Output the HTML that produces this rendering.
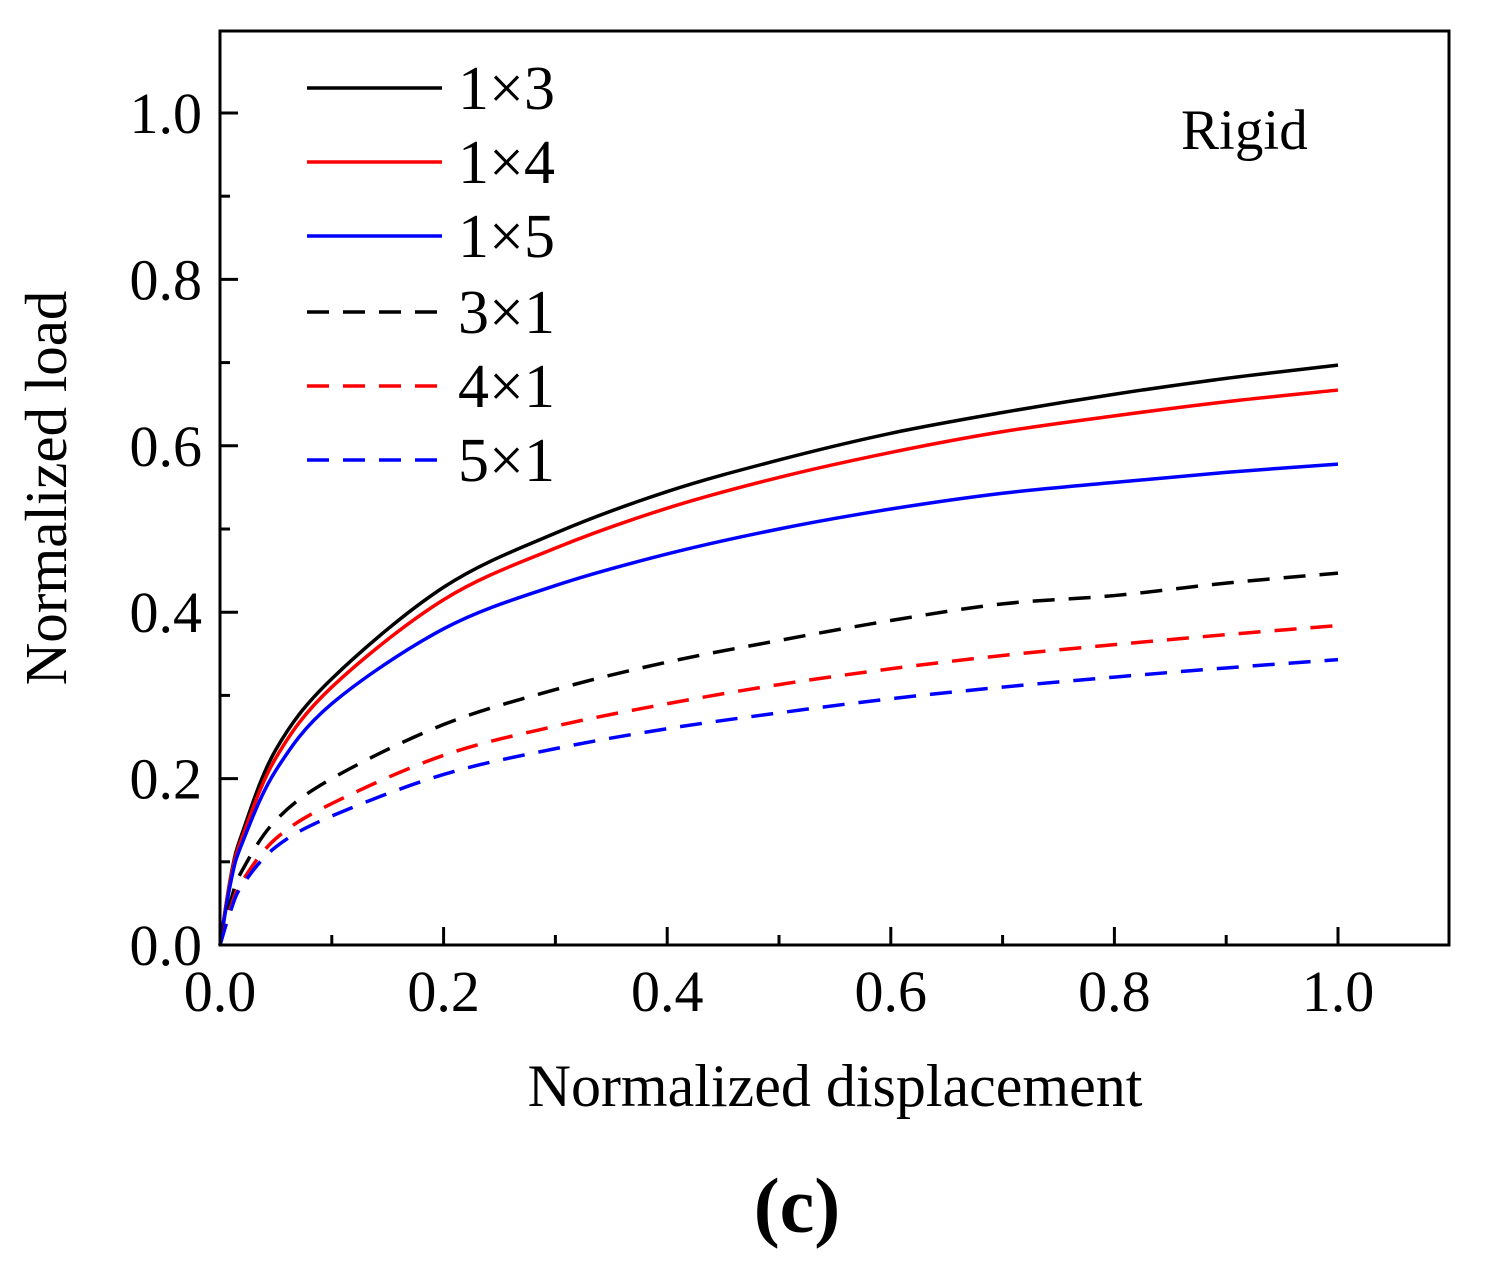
<!DOCTYPE html>
<html><head><meta charset="utf-8"><style>
html,body{margin:0;padding:0;background:#fff;}
svg text{font-family:"Liberation Serif",serif;fill:#000;}
</style></head><body>
<svg id="chart" width="1490" height="1283" viewBox="0 0 1490 1283">
<g id="curves"></g>
<rect x="220" y="31" width="1229" height="914" fill="none" stroke="#000" stroke-width="3"/>
<g id="axes"></g>
<g id="legend"></g>
<text x="1181" y="149" font-size="57">Rigid</text>
<text x="835" y="1106" font-size="60" text-anchor="middle">Normalized displacement</text>
<text transform="translate(66,488) rotate(-90)" font-size="59" text-anchor="middle">Normalized load</text>
<text x="797" y="1232" font-size="78" font-weight="bold" text-anchor="middle">(c)</text>
</svg>
<script>
const xs = [0, 0.01, 0.02, 0.05, 0.1, 0.2, 0.3, 0.4, 0.5, 0.6, 0.7, 0.8, 0.9, 1.0];
const s1x3 = [0, 0.085, 0.135, 0.235, 0.32, 0.43, 0.495, 0.545, 0.583, 0.615, 0.64, 0.662, 0.681, 0.697];
const s1x4 = [0, 0.083, 0.13, 0.225, 0.31, 0.415, 0.477, 0.525, 0.562, 0.592, 0.617, 0.636, 0.653, 0.667];
const s1x5 = [0, 0.078, 0.123, 0.21, 0.29, 0.38, 0.432, 0.47, 0.5, 0.524, 0.543, 0.556, 0.568, 0.578];
const s3x1 = [0, 0.055, 0.09, 0.15, 0.2, 0.265, 0.307, 0.34, 0.366, 0.39, 0.41, 0.42, 0.435, 0.447];
const s4x1 = [0, 0.047, 0.077, 0.128, 0.17, 0.228, 0.263, 0.29, 0.313, 0.332, 0.348, 0.361, 0.373, 0.384];
const s5x1 = [0, 0.043, 0.072, 0.118, 0.155, 0.205, 0.236, 0.26, 0.279, 0.296, 0.31, 0.322, 0.333, 0.343];
const seriesNames = ["1×3","1×4","1×5","3×1","4×1","5×1"];
const seriesData = [s1x3,s1x4,s1x5,s3x1,s4x1,s5x1];
const seriesColors = ["#000","#f00","#00f","#000","#f00","#00f"];
const seriesDashed = [false,false,false,true,true,true];
const xTicks = [0,0.2,0.4,0.6,0.8,1.0];
const yTicks = [0,0.2,0.4,0.6,0.8,1.0];

const X = v => 220 + v*1118;
const Y = v => 945 - v*832;
const NS = "http://www.w3.org/2000/svg";
function mk(tag, attrs, parent){const e=document.createElementNS(NS,tag);for(const k in attrs)e.setAttribute(k,attrs[k]);parent.appendChild(e);return e;}
function smooth(pts){
  let d=`M${pts[0][0]},${pts[0][1]}`;
  for(let i=0;i<pts.length-1;i++){
    const p0=pts[Math.max(0,i-1)],p1=pts[i],p2=pts[i+1],p3=pts[Math.min(pts.length-1,i+2)];
    const c1=[p1[0]+(p2[0]-p0[0])/6,p1[1]+(p2[1]-p0[1])/6];
    const c2=[p2[0]-(p3[0]-p1[0])/6,p2[1]-(p3[1]-p1[1])/6];
    d+=`C${c1[0]},${c1[1]} ${c2[0]},${c2[1]} ${p2[0]},${p2[1]}`;
  }
  return d;
}
const cg=document.getElementById('curves');
seriesData.forEach((ys,i)=>{
  const pts=xs.map((x,j)=>[X(x),Y(ys[j])]);
  const p=mk('path',{d:smooth(pts),fill:'none',stroke:seriesColors[i],'stroke-width':3.5},cg);
  if(seriesDashed[i]) p.setAttribute('stroke-dasharray','22 14');
  
  
});
const ag=document.getElementById('axes');
for(let k=0;k<=10;k++){
  const v=k/10, major=k%2===0, len=major?18:10;
  const t=mk('line',{x1:X(v),x2:X(v),y1:945,y2:945-len,stroke:'#000','stroke-width':3},ag);
  
  
  const u=mk('line',{x1:220,x2:220+len,y1:Y(v),y2:Y(v),stroke:'#000','stroke-width':3},ag);
  
  
}
xTicks.forEach(v=>{
  const t=mk('text',{x:X(v),y:1011,'font-size':58,'text-anchor':'middle'},ag);
  t.textContent=v.toFixed(1);
  
  
});
yTicks.forEach(v=>{
  const t=mk('text',{x:202,y:Y(v)+20,'font-size':58,'text-anchor':'end'},ag);
  t.textContent=v.toFixed(1);
  
  
});
const lg=document.getElementById('legend');
const legY=[88,162,236,312,386,460];
seriesNames.forEach((n,i)=>{
  const l=mk('line',{x1:307,x2:442,y1:legY[i],y2:legY[i],stroke:seriesColors[i],'stroke-width':3.5},lg);
  if(seriesDashed[i]) l.setAttribute('stroke-dasharray','22 14');
  
  
  const t=mk('text',{x:458,y:legY[i]+21,'font-size':62},lg);
  t.textContent=n;
  
  
});
</script>
</body></html>
